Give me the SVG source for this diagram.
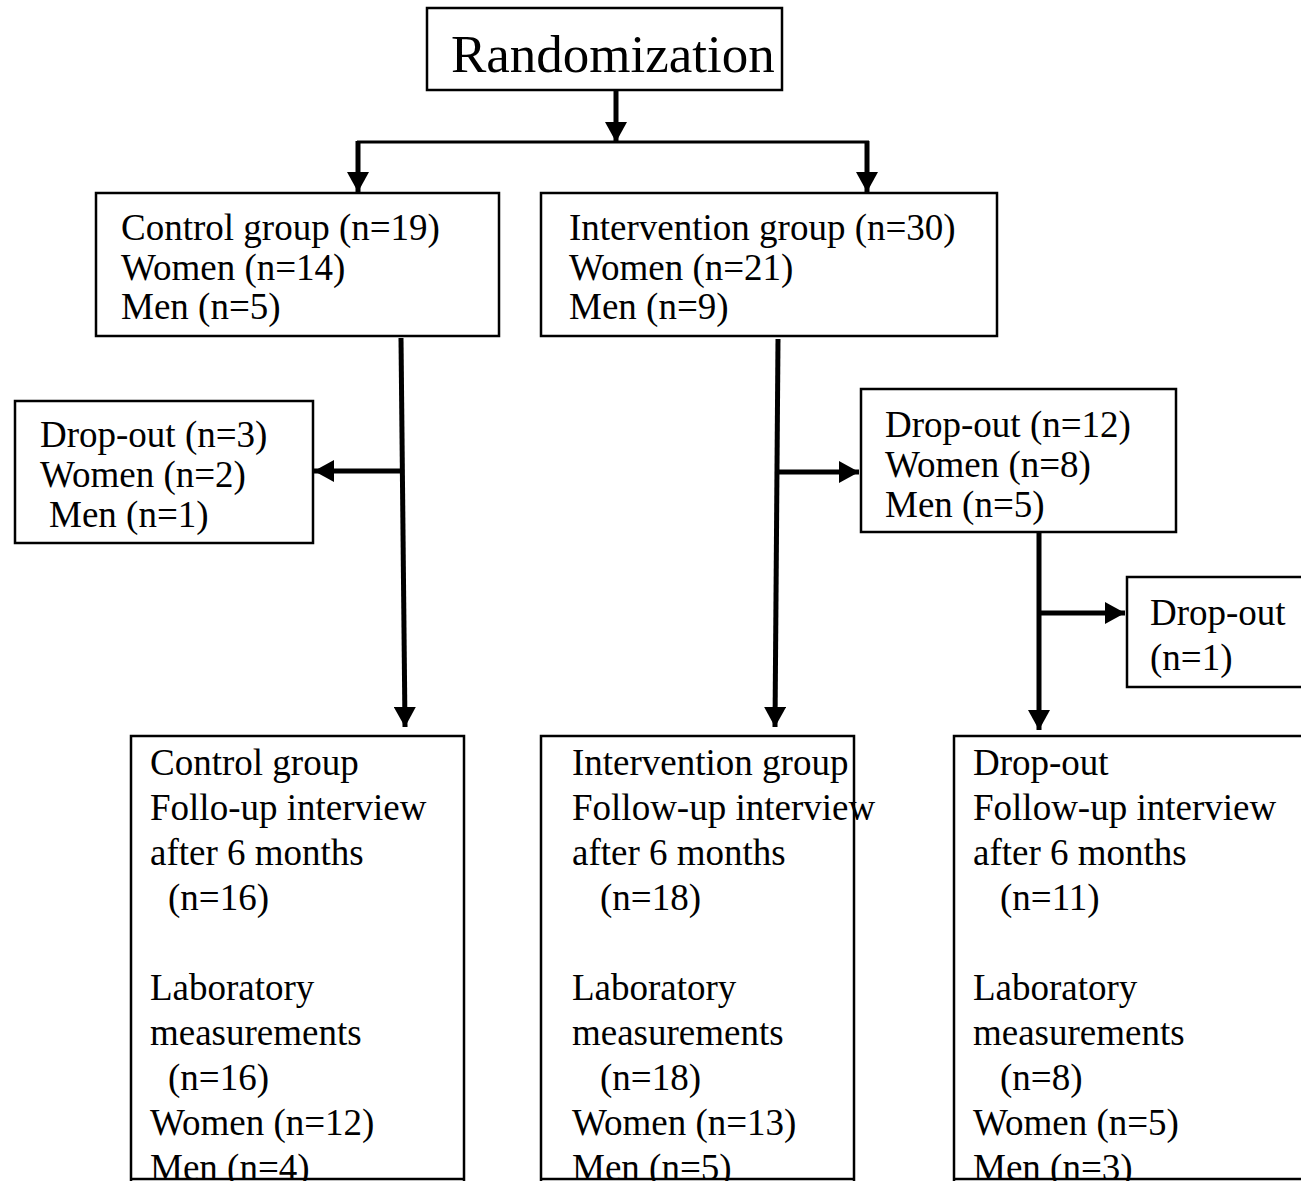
<svg xmlns="http://www.w3.org/2000/svg" width="1301" height="1181" viewBox="0 0 1301 1181">
<style>
  .box { fill: #fff; stroke: #000; stroke-width: 2.5; }
  .t { font-family: "Liberation Serif", "Times New Roman", serif; font-size: 37px; fill: #000; }
  .big { font-size: 53px; }
  .ln { fill: none; stroke: #000; stroke-width: 5; }
  .thin { stroke-width: 3; }
</style>
<defs>
  <marker id="ah" markerUnits="userSpaceOnUse" markerWidth="22" markerHeight="22" viewBox="0 0 20 22" refX="20" refY="11" orient="auto">
    <path d="M0,0 L20,11 L0,22 Z" fill="#000"/>
  </marker>
</defs>
<rect width="1301" height="1181" fill="#fff"/>

<g id="connectors">
  <line class="ln" x1="616" y1="90" x2="616" y2="142" marker-end="url(#ah)"/>
  <line class="ln thin" x1="357" y1="142" x2="869" y2="142"/>
  <line class="ln" x1="358" y1="141" x2="358" y2="192" marker-end="url(#ah)"/>
  <line class="ln" x1="867" y1="141" x2="867" y2="192" marker-end="url(#ah)"/>
  <line class="ln" x1="401" y1="338" x2="405" y2="727" marker-end="url(#ah)"/>
  <line class="ln" x1="403" y1="471" x2="314" y2="471" marker-end="url(#ah)"/>
  <line class="ln" x1="778" y1="339" x2="775" y2="727" marker-end="url(#ah)"/>
  <line class="ln" x1="777" y1="472" x2="859" y2="472" marker-end="url(#ah)"/>
  <line class="ln" x1="1039" y1="524" x2="1039" y2="730" marker-end="url(#ah)"/>
  <line class="ln" x1="1039" y1="613" x2="1125" y2="613" marker-end="url(#ah)"/>
</g>

<g id="randomization">
  <rect class="box" x="427" y="8" width="355" height="82"/>
  <text class="t big" x="451" y="72">Randomization</text>
</g>

<g id="control">
  <rect class="box" x="96" y="193" width="403" height="143"/>
  <text class="t" x="121" y="240">Control group (n=19)</text>
  <text class="t" x="121" y="280">Women (n=14)</text>
  <text class="t" x="121" y="319">Men (n=5)</text>
</g>

<g id="intervention">
  <rect class="box" x="541" y="193" width="456" height="143"/>
  <text class="t" x="569" y="240">Intervention group (n=30)</text>
  <text class="t" x="569" y="280">Women (n=21)</text>
  <text class="t" x="569" y="319">Men (n=9)</text>
</g>

<g id="dropout-control">
  <rect class="box" x="15" y="401" width="298" height="142"/>
  <text class="t" x="40" y="447">Drop-out (n=3)</text>
  <text class="t" x="40" y="487">Women (n=2)</text>
  <text class="t" x="49" y="527">Men (n=1)</text>
</g>

<g id="dropout-intervention">
  <rect class="box" x="861" y="389" width="315" height="143"/>
  <text class="t" x="885" y="437">Drop-out (n=12)</text>
  <text class="t" x="885" y="477">Women (n=8)</text>
  <text class="t" x="885" y="517">Men (n=5)</text>
</g>

<g id="dropout-1">
  <rect class="box" x="1127" y="577" width="190" height="110"/>
  <text class="t" x="1150" y="625">Drop-out</text>
  <text class="t" x="1150" y="670">(n=1)</text>
</g>

<g id="followup-control">
  <rect class="box" x="131" y="736" width="333" height="450"/>
  <text class="t" x="150" y="775">Control group</text>
  <text class="t" x="150" y="820">Follo-up interview</text>
  <text class="t" x="150" y="865">after 6 months</text>
  <text class="t" x="168" y="910">(n=16)</text>
  <text class="t" x="150" y="1000">Laboratory</text>
  <text class="t" x="150" y="1045">measurements</text>
  <text class="t" x="168" y="1090">(n=16)</text>
  <text class="t" x="150" y="1135">Women (n=12)</text>
  <text class="t" x="150" y="1180">Men (n=4)</text>
</g>

<g id="followup-intervention">
  <rect class="box" x="541" y="736" width="313" height="450"/>
  <text class="t" x="572" y="775">Intervention group</text>
  <text class="t" x="572" y="820">Follow-up interview</text>
  <text class="t" x="572" y="865">after 6 months</text>
  <text class="t" x="600" y="910">(n=18)</text>
  <text class="t" x="572" y="1000">Laboratory</text>
  <text class="t" x="572" y="1045">measurements</text>
  <text class="t" x="600" y="1090">(n=18)</text>
  <text class="t" x="572" y="1135">Women (n=13)</text>
  <text class="t" x="572" y="1180">Men (n=5)</text>
</g>

<g id="followup-dropout">
  <rect class="box" x="954" y="736" width="360" height="450"/>
  <text class="t" x="973" y="775">Drop-out</text>
  <text class="t" x="973" y="820">Follow-up interview</text>
  <text class="t" x="973" y="865">after 6 months</text>
  <text class="t" x="1000" y="910">(n=11)</text>
  <text class="t" x="973" y="1000">Laboratory</text>
  <text class="t" x="973" y="1045">measurements</text>
  <text class="t" x="1000" y="1090">(n=8)</text>
  <text class="t" x="973" y="1135">Women (n=5)</text>
  <text class="t" x="973" y="1180">Men (n=3)</text>
</g>

<g id="bottom-edges">
  <line x1="131" y1="1179" x2="464" y2="1179" stroke="#000" stroke-width="2.5"/>
  <line x1="541" y1="1179" x2="854" y2="1179" stroke="#000" stroke-width="2.5"/>
  <line x1="954" y1="1179" x2="1301" y2="1179" stroke="#000" stroke-width="2.5"/>
</g>
</svg>
